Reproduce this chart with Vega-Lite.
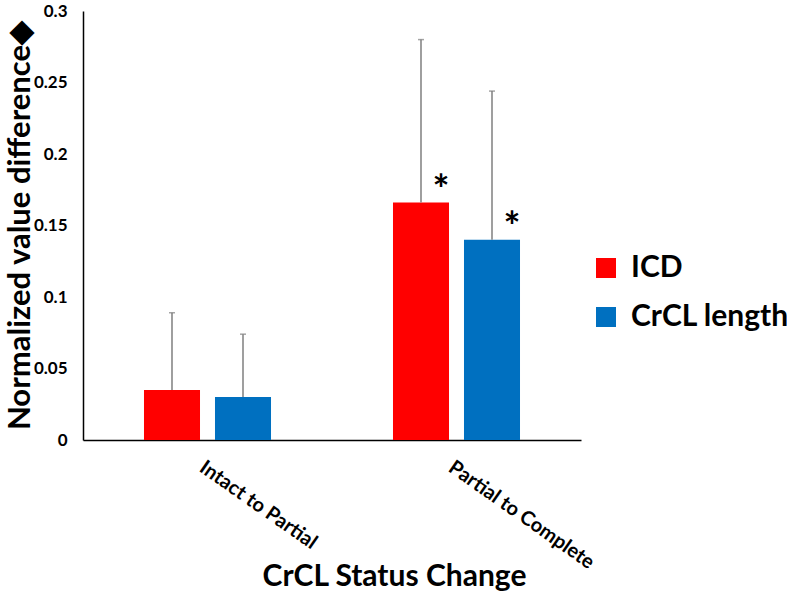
{
  "$schema": "https://vega.github.io/schema/vega-lite/v6.json",
  "width": 498,
  "height": 429,
  "autosize": {"type": "none"},
  "padding": {"left": 83, "top": 11, "right": 206, "bottom": 161},
  "background": "white",
  "config": {
    "view": {"stroke": null},
    "font": "Lato",
    "axis": {"labelFont": "Lato", "titleFont": "Lato", "labelColor": "black", "titleColor": "black"}
  },
  "data": {
    "values": [
      {"change": "Intact to Partial", "measure": "ICD", "value": 0.035, "upper": 0.089, "sig": ""},
      {"change": "Intact to Partial", "measure": "CrCL length", "value": 0.03, "upper": 0.074, "sig": ""},
      {"change": "Partial to Complete", "measure": "ICD", "value": 0.166, "upper": 0.28, "sig": "*"},
      {"change": "Partial to Complete", "measure": "CrCL length", "value": 0.14, "upper": 0.244, "sig": "*"}
    ]
  },
  "encoding": {
    "x": {
      "field": "change",
      "type": "nominal",
      "scale": {"paddingInner": 0, "paddingOuter": 0},
      "axis": {
        "title": "CrCL Status Change",
        "titleFontSize": 30,
        "titleFontWeight": "bold",
        "titleX": 311,
        "titleY": 145,
        "titleAlign": "center",
        "titleBaseline": "alphabetic",
        "labelAngle": 35,
        "labelAlign": "left",
        "labelBaseline": "top",
        "labelFontSize": 20,
        "labelFontWeight": "bold",
        "labelPadding": 17,
        "labelLimit": 300,
        "ticks": false,
        "domainColor": "black",
        "domainWidth": 1.5
      }
    },
    "xOffset": {
      "field": "measure",
      "type": "nominal",
      "sort": ["ICD", "CrCL length"],
      "scale": {"paddingInner": 0.211, "paddingOuter": 0.859}
    }
  },
  "layer": [
    {
      "mark": {"type": "bar"},
      "encoding": {
        "y": {
          "field": "value",
          "type": "quantitative",
          "scale": {"domain": [0, 0.3]},
          "axis": {
            "title": "Normalized value difference◆",
            "titleFontSize": 31,
            "titleFontWeight": "bold",
            "titleX": -78,
            "titleY": 214,
            "titleAngle": -90,
            "titleAlign": "center",
            "titleBaseline": "top",
            "values": [0, 0.05, 0.1, 0.15, 0.2, 0.25, 0.3],
            "labelExpr": "datum.value",
            "labelFontSize": 17,
            "labelFontWeight": "bold",
            "labelPadding": 16,
            "ticks": false,
            "grid": false,
            "domainColor": "black",
            "domainWidth": 1.5
          }
        },
        "color": {
          "field": "measure",
          "type": "nominal",
          "sort": ["ICD", "CrCL length"],
          "scale": {"domain": ["ICD", "CrCL length"], "range": ["#FF0000", "#0070C0"]},
          "legend": {
            "orient": "none",
            "legendX": 508,
            "legendY": 242,
            "title": null,
            "padding": 0,
            "symbolType": "square",
            "symbolSize": 400,
            "symbolStrokeWidth": 0,
            "labelFont": "Lato",
            "labelFontSize": 30,
            "labelFontWeight": "bold",
            "labelColor": "black",
            "labelOffset": 10,
            "rowPadding": 19,
            "labelLimit": 300
          }
        }
      }
    },
    {
      "mark": {"type": "rule", "color": "#7f7f7f", "strokeWidth": 1.5},
      "encoding": {
        "y": {"field": "value", "type": "quantitative"},
        "y2": {"field": "upper"}
      }
    },
    {
      "mark": {"type": "tick", "color": "#7f7f7f", "thickness": 1.5, "size": 6},
      "encoding": {
        "y": {"field": "upper", "type": "quantitative"}
      }
    },
    {
      "mark": {"type": "text", "fontSize": 40, "fontWeight": "bold", "dx": 20, "dy": 1, "baseline": "alphabetic", "color": "black"},
      "encoding": {
        "y": {"field": "value", "type": "quantitative"},
        "text": {"field": "sig"}
      }
    }
  ]
}
